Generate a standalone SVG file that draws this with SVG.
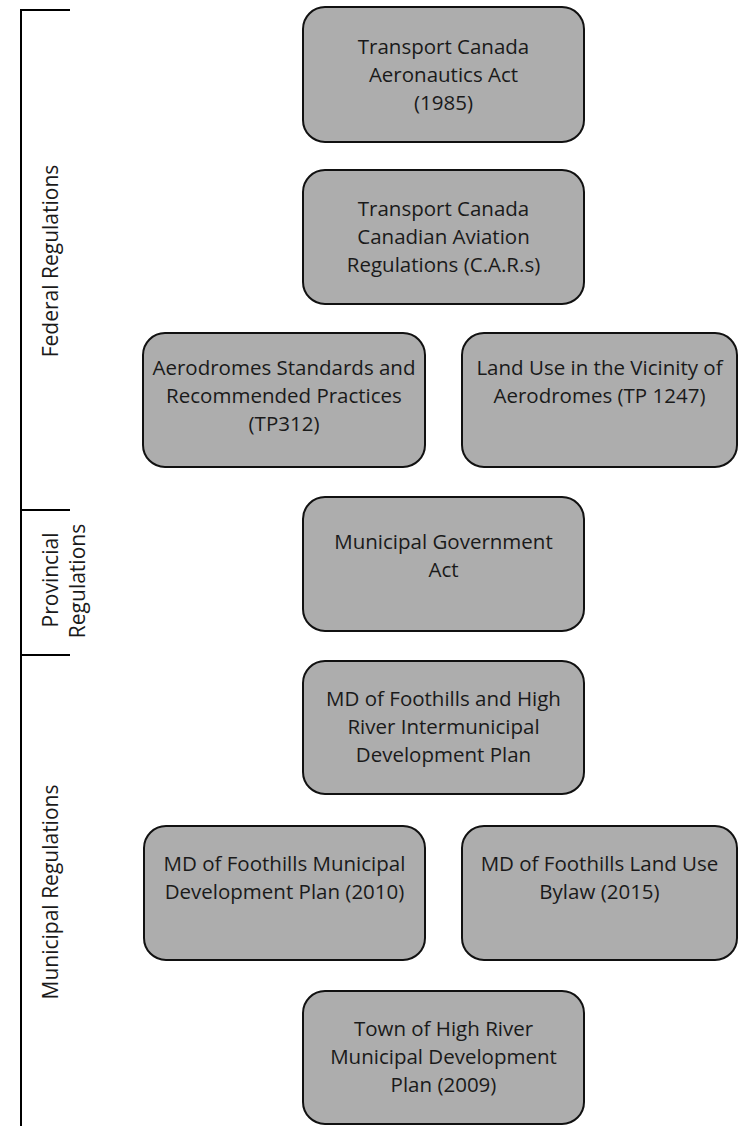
<svg xmlns="http://www.w3.org/2000/svg" width="740" height="1126" viewBox="0 0 740 1126">
<style>
.box{fill:#adadad;stroke:#111;stroke-width:2}
.t{font-family:"Open Sans","Liberation Sans",sans-serif;font-size:20.5px;fill:#1a1a1a;text-anchor:middle}
.lab{font-family:"Open Sans","Liberation Sans",sans-serif;font-size:21px;fill:#1a1a1a;text-anchor:middle}
.br{stroke:#000;stroke-width:2;fill:none}
</style>
<rect width="740" height="1126" fill="#fff"/>
<g id="bracket">
<path class="br" d="M70,10 H21 V1126 M21,510 H70 M21,655 H70"/>
</g>
<g id="labels">
<text class="lab" transform="translate(58,261) rotate(-90)">Federal Regulations</text>
<text class="lab" transform="translate(58,580) rotate(-90)">Provincial</text>
<text class="lab" transform="translate(85,581) rotate(-90)">Regulations</text>
<text class="lab" transform="translate(58,892) rotate(-90)">Municipal Regulations</text>
</g>
<g id="connectors"></g>
<g id="n1"><rect class="box" x="303" y="7" width="281" height="135" rx="22"/>
<text class="t" x="443.5" y="54">Transport Canada</text><text class="t" x="443.5" y="82">Aeronautics Act</text><text class="t" x="443.5" y="110">(1985)</text></g>
<g id="n2"><rect class="box" x="303" y="170" width="281" height="134" rx="22"/>
<text class="t" x="443.5" y="216">Transport Canada</text><text class="t" x="443.5" y="244">Canadian Aviation</text><text class="t" x="443.5" y="272">Regulations (C.A.R.s)</text></g>
<g id="n3"><rect class="box" x="143" y="333" width="282" height="134" rx="22"/>
<text class="t" x="284" y="375">Aerodromes Standards and</text><text class="t" x="284" y="403">Recommended Practices</text><text class="t" x="284" y="431">(TP312)</text></g>
<g id="n4"><rect class="box" x="462" y="333" width="275" height="134" rx="22"/>
<text class="t" x="599.5" y="375">Land Use in the Vicinity of</text><text class="t" x="599.5" y="403">Aerodromes (TP 1247)</text></g>
<g id="n5"><rect class="box" x="303" y="497" width="281" height="134" rx="22"/>
<text class="t" x="443.5" y="549">Municipal Government</text><text class="t" x="443.5" y="577">Act</text></g>
<g id="n6"><rect class="box" x="303" y="661" width="281" height="133" rx="22"/>
<text class="t" x="443.5" y="706">MD of Foothills and High</text><text class="t" x="443.5" y="734">River Intermunicipal</text><text class="t" x="443.5" y="762">Development Plan</text></g>
<g id="n7"><rect class="box" x="144" y="826" width="281" height="134" rx="22"/>
<text class="t" x="284.5" y="871">MD of Foothills Municipal</text><text class="t" x="284.5" y="899">Development Plan (2010)</text></g>
<g id="n8"><rect class="box" x="462" y="826" width="275" height="134" rx="22"/>
<text class="t" x="599.5" y="871">MD of Foothills Land Use</text><text class="t" x="599.5" y="899">Bylaw (2015)</text></g>
<g id="n9"><rect class="box" x="303" y="991" width="281" height="133" rx="22"/>
<text class="t" x="443.5" y="1036">Town of High River</text><text class="t" x="443.5" y="1064">Municipal Development</text><text class="t" x="443.5" y="1092">Plan (2009)</text></g>
</svg>
